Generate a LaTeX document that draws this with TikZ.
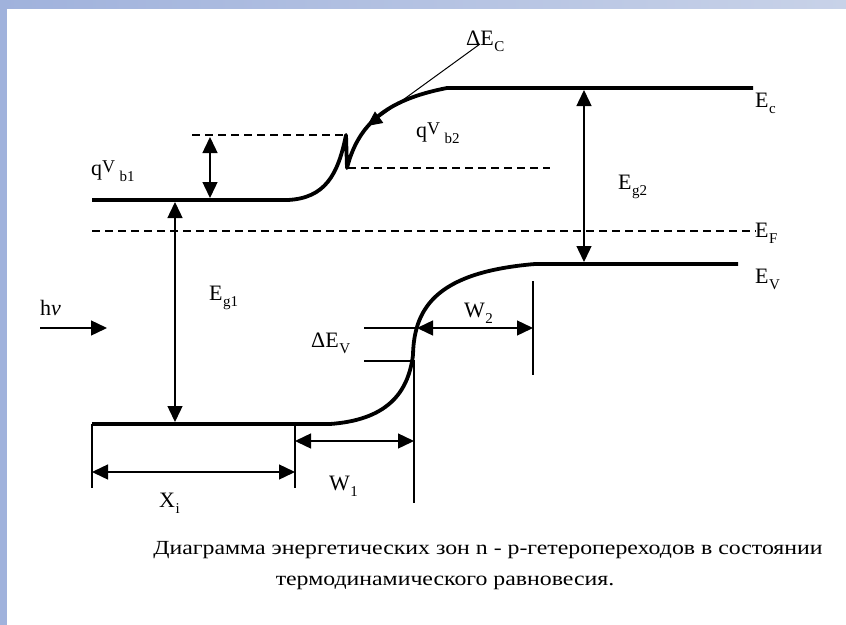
\documentclass[tikz,border=0pt]{standalone}
\usepackage{fontspec}
\usepackage{graphicx}
\setmainfont{Liberation Serif}
\usetikzlibrary{arrows.meta}
\definecolor{bgblue}{RGB}{160,178,220}
\definecolor{bglight}{RGB}{200,210,232}
\newcommand{\sbl}[1]{\kern0.5pt\raisebox{-6pt}{\fontsize{15}{15}\selectfont #1}}
\begin{document}
\begin{tikzpicture}[x=1pt,y=-1pt,
  band/.style={line width=3.8pt, line join=round},
  thinl/.style={line width=1.4pt},
  dsh/.style={line width=1.6pt, dash pattern=on 8pt off 5pt},
  dimarrow/.style={thinl, {Triangle[length=16pt,width=15pt]}-{Triangle[length=16pt,width=15pt]}},
  onearrow/.style={thinl, -{Triangle[length=16pt,width=15pt]}},
  lab/.style={anchor=base west, inner sep=0pt, font=\fontsize{22}{26}\selectfont},
  captxt/.style={anchor=base, inner sep=0pt, font=\fontsize{20}{24}\selectfont},
]
\useasboundingbox (0,0) rectangle (846,624);
% background
\shade[left color=bgblue, right color=bglight] (0,0) rectangle (846,624);
\fill[white] (7,9) rectangle (850,628);

% dashed reference lines
\coordinate (d1a) at (192,135); \coordinate (d1b) at (346,135);
\coordinate (d2a) at (348,168); \coordinate (d2b) at (550,168);
\coordinate (efa) at (92,231);  \coordinate (efb) at (756,231);
\draw[dsh] (d1a) -- (d1b);
\draw[dsh] (d2a) -- (d2b);
\draw[dsh] (efa) -- (efb);

% conduction band
\coordinate (cb0) at (92,200);
\coordinate (cb1) at (288,200);
\coordinate (cbs) at (346,135);
\coordinate (cbn) at (347,168);
\coordinate (cb2) at (447,88);
\coordinate (cb3) at (753,88);
\draw[band] (cb0) -- (cb1) .. controls (325,198) and (338,175) .. (cbs) -- (cbn)
  .. controls (358,125) and (385,100) .. (cb2) -- (cb3);

% valence band
\coordinate (vb0) at (92,424);
\coordinate (vb1) at (330,424);
\coordinate (vbm) at (413,355);
\coordinate (vb2) at (535,264);
\coordinate (vb3) at (738,264);
\draw[band] (vb0) -- (vb1) .. controls (385,420) and (408,395) .. (vbm)
  .. controls (414,305) and (440,272) .. (vb2) -- (vb3);

% vertical arrows
\coordinate (qa) at (210,137); \coordinate (qb) at (210,198);
\draw[dimarrow] (qa) -- (qb);
\coordinate (g1a) at (175,202); \coordinate (g1b) at (175,422);
\draw[dimarrow] (g1a) -- (g1b);
\coordinate (g2a) at (584,90); \coordinate (g2b) at (584,262);
\draw[dimarrow] (g2a) -- (g2b);

% Delta E_C pointer
\coordinate (dca) at (480,44); \coordinate (dcb) at (367,126);
\draw[line width=1pt, -{Triangle[length=15pt,width=14pt]}] (dca) -- (dcb);

% h nu arrow
\coordinate (hva) at (40,328); \coordinate (hvb) at (107,328);
\draw[onearrow] (hva) -- (hvb);

% Delta E_V ticks
\coordinate (dv1a) at (364,328); \coordinate (dv1b) at (416,328);
\coordinate (dv2a) at (364,361); \coordinate (dv2b) at (413,361);
\draw[thinl] (dv1a) -- (dv1b);
\draw[thinl] (dv2a) -- (dv2b);

% vertical extension lines
\coordinate (v1a) at (92,424);  \coordinate (v1b) at (92,488);
\coordinate (v2a) at (295,424); \coordinate (v2b) at (295,488);
\coordinate (v3a) at (414,360); \coordinate (v3b) at (414,503);
\coordinate (v4a) at (533,281); \coordinate (v4b) at (533,375);
\draw[thinl] (v1a) -- (v1b);
\draw[thinl] (v2a) -- (v2b);
\draw[thinl] (v3a) -- (v3b);
\draw[thinl] (v4a) -- (v4b);

% horizontal dimension arrows
\coordinate (xa) at (92,472);  \coordinate (xb) at (295,472);
\coordinate (w1a) at (295,441); \coordinate (w1b) at (414,441);
\coordinate (w2a) at (417,328); \coordinate (w2b) at (533,328);
\draw[dimarrow] (xa) -- (xb);
\draw[dimarrow] (w1a) -- (w1b);
\draw[dimarrow] (w2a) -- (w2b);

% labels
\node[lab] (lEc)  at (755,107) {E\sbl{c}};
\node[lab] (lEF)  at (755,237) {E\sbl{F}};
\node[lab] (lEV)  at (755,283) {E\sbl{V}};
\node[lab] (lEg2) at (618,189) {E\sbl{g2}};
\node[lab] (lEg1) at (209,300) {E\sbl{g1}};
\node[lab] (lhv)  at (40,315) {h\textit{ν}};
\node[lab] (lXi)  at (159,507) {X\sbl{i}};
\node[lab] (lW1)  at (329,490) {W\sbl{1}};
\node[lab] (lW2)  at (464,317) {W\sbl{2}};
\node[lab] (lDEV) at (311,347) {ΔE\sbl{V}};
\node[lab] (lDEC) at (466,45) {ΔE\sbl{C}};
\node[lab] (lqb1) at (91,175) {q\raisebox{3pt}{\fontsize{18}{18}\selectfont V}\kern4pt\sbl{b1}};
\node[lab] (lqb2) at (416,137) {q\raisebox{3pt}{\fontsize{18}{18}\selectfont V}\kern4pt\sbl{b2}};

% caption
\node[captxt] (cap1) at (488,554) {\scalebox{1.19}[1]{Диаграмма энергетических зон n - p-гетеропереходов в состоянии}};
\node[captxt] (cap2) at (445,585) {\scalebox{1.19}[1]{термодинамического равновесия.}};
\end{tikzpicture}
\end{document}
